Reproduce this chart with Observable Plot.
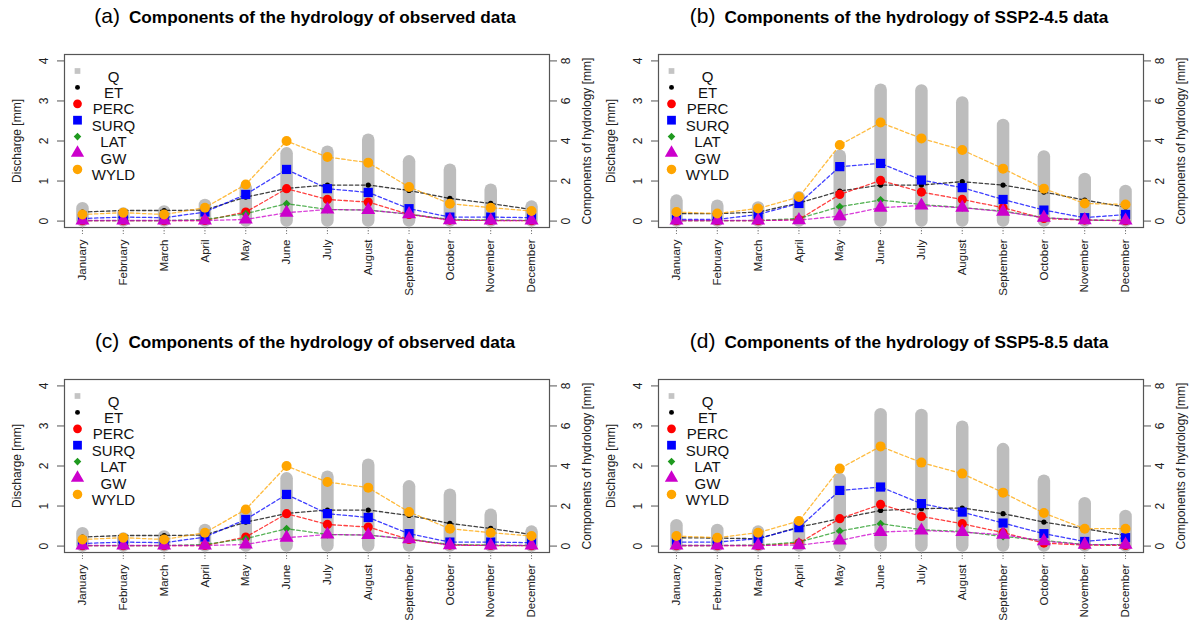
<!DOCTYPE html>
<html><head><meta charset="utf-8">
<script src="https://cdn.jsdelivr.net/npm/d3@7"></script>
<script src="https://cdn.jsdelivr.net/npm/@observablehq/plot@0.6"></script>
<style>
html,body{margin:0;padding:0;}
body{width:1190px;height:620px;overflow:hidden;background:#fff;font-family:"Liberation Sans",Arial,sans-serif;position:relative;}
.panel{position:absolute;width:596px;height:310px;}
.title{position:absolute;left:0;width:610px;text-align:center;top:4px;white-space:nowrap;color:#000;}
.title .tag{font-size:21px;font-weight:normal;margin-right:9px;}
.title .main{font-size:17.2px;font-weight:bold;}
.chart{position:absolute;left:0;top:40px;}
.chart svg{overflow:visible;}
</style></head><body>
<script>
const months = ["January","February","March","April","May","June","July","August","September","October","November","December"];
const legendNames = ["Q","ET","PERC","SURQ","LAT","GW","WYLD"];
const componentNames = ["ET","PERC","SURQ","LAT","GW","WYLD"];
const componentColors = ["#000000","#ff0000","#0000ff","#1f9a1f","#cc00cc","#ffa500"];

// Observed data (panels a and c)
const obsQ    = [0.31,0.18,0.23,0.39,0.81,1.68,1.72,2.02,1.48,1.27,0.77,0.35];
const obsET   = [0.45,0.53,0.53,0.55,1.20,1.63,1.80,1.80,1.53,1.13,0.88,0.58];
const obsPERC = [0.02,0.02,0.02,0.03,0.45,1.62,1.08,0.95,0.33,0.05,0.03,0.02];
const obsSURQ = [0.13,0.20,0.17,0.45,1.33,2.58,1.62,1.43,0.62,0.20,0.20,0.17];
const obsLAT  = [0.02,0.02,0.02,0.08,0.37,0.87,0.58,0.55,0.35,0.08,0.05,0.03];
const obsGW   = [0.03,0.03,0.03,0.03,0.08,0.42,0.58,0.55,0.35,0.05,0.03,0.03];
const obsWYLD = [0.33,0.42,0.33,0.67,1.83,4.00,3.20,2.92,1.70,0.87,0.67,0.50];

// SSP2-4.5 data (panel b)
const s245Q    = [0.50,0.37,0.33,0.58,1.62,3.27,3.25,2.95,2.39,1.60,1.04,0.74];
const s245ET   = [0.37,0.37,0.45,0.90,1.50,1.80,1.80,1.97,1.80,1.45,1.05,0.70];
const s245PERC = [0.02,0.02,0.02,0.08,1.33,2.03,1.45,1.08,0.67,0.13,0.05,0.02];
const s245SURQ = [0.08,0.08,0.33,0.88,2.72,2.88,2.05,1.67,1.08,0.55,0.17,0.33];
const s245LAT  = [0.02,0.02,0.03,0.13,0.72,1.05,0.83,0.67,0.50,0.17,0.05,0.03];
const s245GW   = [0.03,0.03,0.03,0.05,0.25,0.67,0.78,0.67,0.47,0.17,0.05,0.03];
const s245WYLD = [0.45,0.38,0.63,1.20,3.80,4.92,4.13,3.55,2.62,1.62,0.88,0.83];

// SSP5-8.5 data (panel d)
const s585Q    = [0.51,0.39,0.35,0.55,1.66,3.28,3.26,2.97,2.41,1.62,1.06,0.74];
const s585ET   = [0.42,0.40,0.37,0.95,1.37,1.78,1.87,1.90,1.62,1.20,0.87,0.53];
const s585PERC = [0.02,0.02,0.02,0.15,1.37,2.08,1.48,1.12,0.67,0.15,0.05,0.03];
const s585SURQ = [0.20,0.20,0.37,0.92,2.78,2.95,2.12,1.70,1.15,0.62,0.23,0.42];
const s585LAT  = [0.03,0.03,0.05,0.20,0.75,1.12,0.82,0.73,0.48,0.28,0.08,0.07];
const s585GW   = [0.03,0.03,0.03,0.05,0.28,0.70,0.78,0.70,0.57,0.25,0.07,0.07];
const s585WYLD = [0.50,0.42,0.67,1.25,3.87,4.98,4.17,3.62,2.67,1.65,0.87,0.87];

const panelTags = ["(a)","(b)","(c)","(d)"];
const panelTitles = [
  "Components of the hydrology of observed data",
  "Components of the hydrology of SSP2-4.5 data",
  "Components of the hydrology of observed data",
  "Components of the hydrology of SSP5-8.5 data"
];

function table(Q, ET, PERC, SURQ, LAT, GW, WYLD) {
  return months.map((m, i) => ({month: i + 1, name: m, Q: Q[i], ET: ET[i], PERC: PERC[i], SURQ: SURQ[i], LAT: LAT[i], GW: GW[i], WYLD: WYLD[i]}));
}
const datasets = [
  table(obsQ, obsET, obsPERC, obsSURQ, obsLAT, obsGW, obsWYLD),
  table(s245Q, s245ET, s245PERC, s245SURQ, s245LAT, s245GW, s245WYLD),
  table(obsQ, obsET, obsPERC, obsSURQ, obsLAT, obsGW, obsWYLD),
  table(s585Q, s585ET, s585PERC, s585SURQ, s585LAT, s585GW, s585WYLD)
];
const panelPos = [[0,0],[594,0],[0,325],[594,325]];

const symbolStyle = {
  Q:    {symbol: "square",   fill: "#c4c4c4", r: 3.4},
  ET:   {symbol: "circle",   fill: "#000000", r: 2.6},
  PERC: {symbol: "circle",   fill: "#ff0000", r: 4.6},
  SURQ: {symbol: "square",   fill: "#0000ff", r: 5.2},
  LAT:  {symbol: "diamond2", fill: "#1f9a1f", r: 3.6},
  GW:   {symbol: "triangle", fill: "#cc00cc", r: 5.2},
  WYLD: {symbol: "circle",   fill: "#ffa500", r: 5}
};

function buildPanel(k) {
  const rows = datasets[k];
  const marks = [];
  marks.push(Plot.ruleX(rows, {x: "month", y1: 0, y2: "Q", stroke: "#bdbdbd", strokeWidth: 12.5, strokeLinecap: "round"}));
  componentNames.forEach((c, j) => {
    marks.push(Plot.line(rows, {x: "month", y: r => r[c] / 2, stroke: componentColors[j], strokeWidth: 1.3, strokeDasharray: "3.5,2.5", strokeOpacity: 0.75}));
  });
  componentNames.forEach((c) => {
    const s = symbolStyle[c];
    marks.push(Plot.dot(rows, {x: "month", y: r => r[c] / 2, symbol: s.symbol, fill: s.fill, r: s.r, stroke: "none"}));
  });
  // legend
  legendNames.forEach((n, i) => {
    const s = symbolStyle[n];
    const dy = 16.5 + i * 16.4;
    marks.push(Plot.dot([n], {frameAnchor: "top-left", dx: 13, dy, symbol: s.symbol, fill: s.fill, r: s.r * 0.95, stroke: "none"}));
    marks.push(Plot.text([n], {frameAnchor: "top-left", dx: 49, dy, text: d => d, textAnchor: "middle", fontSize: 15, fill: "#111"}));
  });
  marks.push(Plot.frame({stroke: "#555", strokeWidth: 1.2}));
  marks.push(Plot.axisX({ticks: d3.range(1, 13), tickFormat: i => months[i - 1], tickRotate: -90, tickSize: 7, tickPadding: 5, label: null, fontSize: 11.5, stroke: "#777", strokeDasharray: "1.5,1.5"}));
  marks.push(Plot.axisY({anchor: "left", ticks: [0,1,2,3,4], tickFormat: d3.format("d"), tickRotate: -90, tickSize: 7, tickPadding: 10, label: null, fontSize: 12, stroke: "#555"}));
  marks.push(Plot.axisY({anchor: "right", ticks: [0,1,2,3,4], tickFormat: v => String(v * 2), tickRotate: -90, tickSize: 7, tickPadding: 13, label: null, fontSize: 12, stroke: "#555"}));
  marks.push(Plot.text(["Discharge [mm]"], {frameAnchor: "left", dx: -47, rotate: -90, textAnchor: "middle", text: d => d, fontSize: 12, fill: "#222"}));
  marks.push(Plot.text(["Components of hydrology [mm]"], {frameAnchor: "right", dx: 38, rotate: -90, textAnchor: "middle", text: d => d, fontSize: 12, fill: "#222"}));

  return Plot.plot({
    width: 596,
    height: 270,
    marginLeft: 64,
    marginRight: 47,
    marginTop: 14,
    marginBottom: 83,
    style: {fontFamily: "'Liberation Sans', Arial, sans-serif", fontSize: "12px", color: "#222", background: "transparent"},
    x: {type: "linear", domain: [0.56, 12.44], axis: null},
    y: {domain: [-0.16, 4.16], axis: null},
    marks
  });
}

for (let k = 0; k < 4; k++) {
  const panel = document.createElement("div");
  panel.className = "panel";
  panel.style.left = panelPos[k][0] + "px";
  panel.style.top = panelPos[k][1] + "px";
  const t = document.createElement("div");
  t.className = "title";
  const tag = document.createElement("span"); tag.className = "tag"; tag.textContent = panelTags[k];
  const main = document.createElement("span"); main.className = "main"; main.textContent = panelTitles[k];
  t.appendChild(tag); t.appendChild(main);
  panel.appendChild(t);
  const c = document.createElement("div");
  c.className = "chart";
  c.appendChild(buildPanel(k));
  panel.appendChild(c);
  document.body.appendChild(panel);
}
</script>
</body></html>
